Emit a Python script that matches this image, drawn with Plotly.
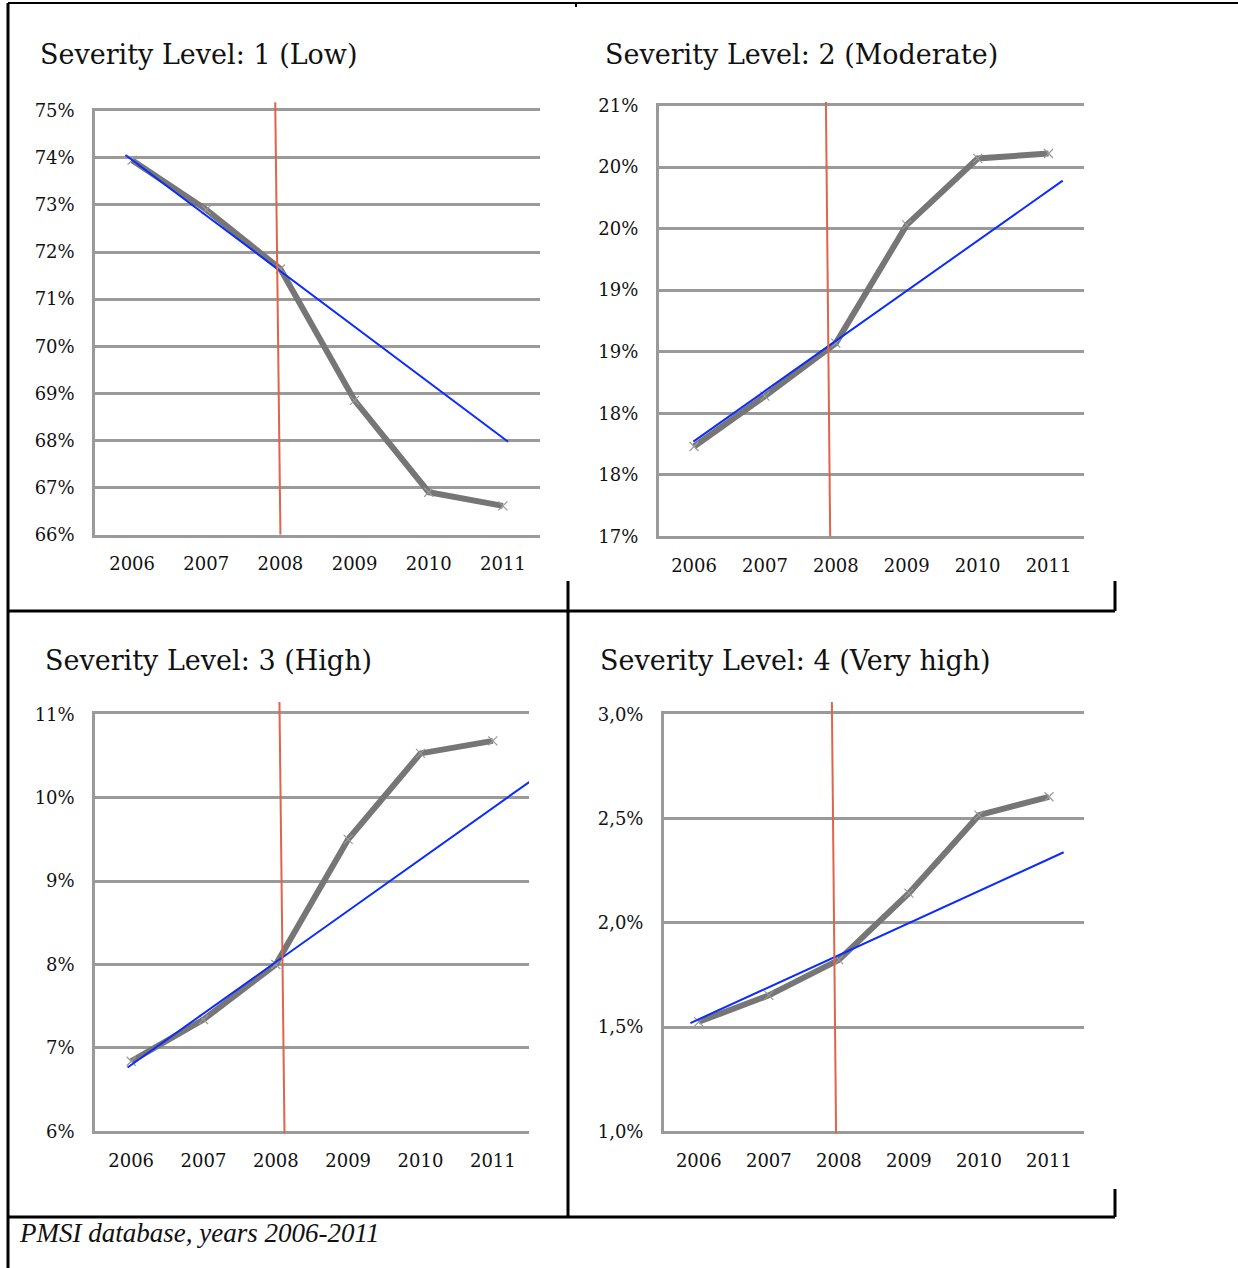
import plotly.graph_objects as go

W, H = 1238, 1268

# ---------------- data ----------------
years = [2006, 2007, 2008, 2009, 2010, 2011]
year_labels = ["2006", "2007", "2008", "2009", "2010", "2011"]

titles = [
    "Severity Level: 1 (Low)",
    "Severity Level: 2 (Moderate)",
    "Severity Level: 3 (High)",
    "Severity Level: 4 (Very high)",
]

sev1 = [73.95, 72.90, 71.64, 68.85, 66.90, 66.61]
sev2 = [17.73, 18.14, 18.57, 19.53, 20.07, 20.11]
sev3 = [6.84, 7.34, 8.00, 9.50, 10.53, 10.68]
sev4 = [1.525, 1.652, 1.822, 2.142, 2.516, 2.604]

# linear trend lines (start / end)
trend1_x = [2005.91, 2011.07]
trend1_y = [74.06, 67.97]
trend2_x = [2005.99, 2011.20]
trend2_y = [17.77, 19.89]
trend3_x = [2005.95, 2011.54]
trend3_y = [6.765, 10.21]
trend4_x = [2005.88, 2011.21]
trend4_y = [1.519, 2.338]

# vertical 2008 cut-off marker (bottom x, top x)
cut1_x = [2008.00, 2007.93]
cut2_x = [2007.92, 2007.86]
cut3_x = [2008.12, 2008.05]
cut4_x = [2007.96, 2007.90]

# y axes
yt1 = [66, 67, 68, 69, 70, 71, 72, 73, 74, 75]
yl1 = ["66%", "67%", "68%", "69%", "70%", "71%", "72%", "73%", "74%", "75%"]
yt2 = [17.0, 17.5, 18.0, 18.5, 19.0, 19.5, 20.0, 20.5]
yl2 = ["17%", "18%", "18%", "19%", "19%", "20%", "20%", "21%"]
yt3 = [6, 7, 8, 9, 10, 11]
yl3 = ["6%", "7%", "8%", "9%", "10%", "11%"]
yt4 = [1.0, 1.5, 2.0, 2.5, 3.0]
yl4 = ["1,0%", "1,5%", "2,0%", "2,5%", "3,0%"]

caption = "PMSI database, years 2006-2011"

# ---------------- layout helpers ----------------
def px_x(v):
    return v / W

def px_y(v):
    return 1 - v / H

# plot areas in pixels: (left, right, top, bottom)
areas = [
    (95, 540, 110.7, 534.6),
    (658.6, 1084, 105.5, 536.4),
    (95, 529, 714.2, 1131.3),
    (663.8, 1084, 714.2, 1131.3),
]
title_pos = [(38, 55), (603, 55), (43, 660), (598, 660)]
cut_top = [1.020, 1.008, 1.029, 1.029]
cut_bot = [0.0, 0.0, -0.005, -0.005]

series = [sev1, sev2, sev3, sev4]
trends = [(trend1_x, trend1_y), (trend2_x, trend2_y), (trend3_x, trend3_y), (trend4_x, trend4_y)]
cuts = [cut1_x, cut2_x, cut3_x, cut4_x]
yticks = [(yt1, yl1), (yt2, yl2), (yt3, yl3), (yt4, yl4)]

GRID = "#9a9a9a"
LINE = "#767676"
BLUE = "#0a2cff"
RED = "#e0644a"
FONT = "DejaVu Serif"

fig = go.Figure()
shapes = []
annotations = []

for i in range(4):
    n = "" if i == 0 else str(i + 1)
    xa, ya = "x" + n, "y" + n
    l, r, t, b = areas[i]
    tv, tl = yticks[i]

    fig.add_trace(go.Scatter(
        x=years, y=series[i], xaxis=xa, yaxis=ya, mode="lines+markers",
        line=dict(color=LINE, width=6),
        marker=dict(symbol="x-thin-open", size=9, color="#9a9a9a",
                    line=dict(color="#9a9a9a", width=1.2)),
        showlegend=False, hoverinfo="skip"))
    fig.add_trace(go.Scatter(
        x=trends[i][0], y=trends[i][1], xaxis=xa, yaxis=ya, mode="lines",
        line=dict(color=BLUE, width=2), showlegend=False, hoverinfo="skip"))

    fig.layout["xaxis" + n] = dict(
        domain=[px_x(l), px_x(r)], anchor=ya, range=[2005.5, 2011.5],
        tickvals=years, ticktext=year_labels, showgrid=False, zeroline=False,
        showline=True, mirror=True, linecolor=GRID, linewidth=2.5, ticks="",
        ticklabelstandoff=11, tickfont=dict(family=FONT, size=18, color="#111"),
        fixedrange=True)
    fig.layout["yaxis" + n] = dict(
        domain=[px_y(b), px_y(t)], anchor=xa, range=[tv[0], tv[-1]],
        tickvals=tv, ticktext=tl, showgrid=True, gridcolor=GRID, gridwidth=2.5,
        zeroline=False, showline=True, linecolor=GRID, linewidth=2.5, ticks="",
        ticklabelstandoff=14, tickfont=dict(family=FONT, size=18, color="#111"),
        fixedrange=True)

    shapes.append(dict(type="line", xref=xa, yref=ya + " domain",
                       x0=cuts[i][0], y0=cut_bot[i], x1=cuts[i][1], y1=cut_top[i],
                       line=dict(color=RED, width=2)))

    tx, ty = title_pos[i]
    annotations.append(dict(text=titles[i], xref="paper", yref="paper",
                            x=px_x(tx), y=px_y(ty), xanchor="left", yanchor="middle",
                            showarrow=False, font=dict(family=FONT, size=27, color="#111")))

annotations.append(dict(text="<i>" + caption + "</i>", xref="paper", yref="paper",
                        x=px_x(17), y=px_y(1233), xanchor="left", yanchor="middle",
                        showarrow=False,
                        font=dict(family="Liberation Serif", size=27, color="#111")))

# frame lines (pixel coordinates)
frame = [
    ((8, 3), (1238, 3), 2),
    ((8, 3), (8, 1268), 3),
    ((8, 611), (1115, 611), 3),
    ((568, 581), (568, 1217), 3),
    ((1115, 581), (1115, 611), 3),
    ((1115, 1189), (1115, 1217), 3),
    ((8, 1217), (1115, 1217), 3),
    ((576, 3), (576, 7), 2),
]
for (x0, y0), (x1, y1), w in frame:
    shapes.append(dict(type="line", xref="paper", yref="paper",
                       x0=px_x(x0), y0=px_y(y0), x1=px_x(x1), y1=px_y(y1),
                       line=dict(color="black", width=w)))

fig.update_layout(
    width=W, height=H, margin=dict(l=0, r=0, t=0, b=0, autoexpand=False),
    paper_bgcolor="white", plot_bgcolor="white",
    shapes=shapes, annotations=annotations, showlegend=False,
)

fig.write_html(
    "out.html", config={"displayModeBar": False},
    post_script="document.body.style.margin='0';document.body.style.overflow='hidden';",
)
